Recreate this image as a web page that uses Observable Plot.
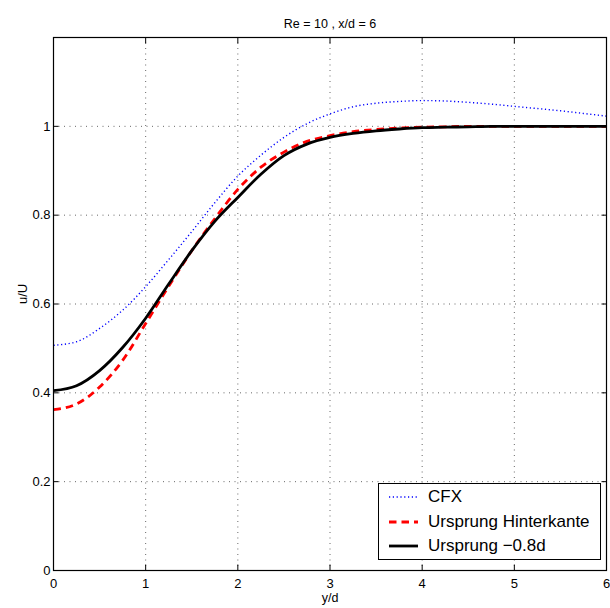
<!DOCTYPE html>
<html>
<head>
<meta charset="utf-8">
<script src="https://cdn.jsdelivr.net/npm/d3@7"></script>
<script src="https://cdn.jsdelivr.net/npm/@observablehq/plot@0.6"></script>
<style>
  html, body { margin: 0; padding: 0; background: #fff; }
  #wrap { position: relative; width: 610px; height: 608px; font-family: "Liberation Sans", Arial, Helvetica, sans-serif; }
  #legend { position: absolute; left: 378px; top: 483px; width: 223px; height: 77px; box-sizing: border-box; border: 1px solid #000; background: #fff; padding-top: 1px; }
  .row { display: flex; align-items: center; height: 24.6px; }
  .row svg { flex: none; }
  .row span { font-size: 17px; margin-left: 10px; color: #000; white-space: nowrap; }
</style>
</head>
<body>
<div id="wrap"></div>
<script>
// ---- data ----
const titleText = "Re = 10 , x/d = 6";
const xLabelText = "y/d";
const yLabelText = "u/U";

const yd = [0, 0.25, 0.5, 0.75, 1.0, 1.25, 1.5, 1.75, 2.0, 2.25, 2.5, 2.75, 3.0, 3.25, 3.5, 3.75, 4.0, 4.25, 4.5, 4.75, 5.0, 5.25, 5.5, 5.75, 6.0];
const cfx = [0.507, 0.515, 0.545, 0.586, 0.639, 0.700, 0.763, 0.828, 0.888, 0.935, 0.975, 1.006, 1.028, 1.044, 1.052, 1.056, 1.058, 1.057, 1.054, 1.050, 1.045, 1.040, 1.035, 1.029, 1.023];
const hinterkante = [0.362, 0.375, 0.413, 0.473, 0.556, 0.640, 0.720, 0.792, 0.858, 0.908, 0.942, 0.966, 0.979, 0.988, 0.993, 0.996, 0.998, 0.999, 1.0, 1.0, 1.0, 1.0, 1.0, 1.0, 1.0];
const ursprung08 = [0.405, 0.416, 0.450, 0.502, 0.568, 0.645, 0.720, 0.786, 0.840, 0.892, 0.934, 0.960, 0.975, 0.984, 0.990, 0.994, 0.997, 0.998, 0.999, 1.0, 1.0, 1.0, 1.0, 1.0, 1.0];

const seriesNames = ["CFX", "Ursprung Hinterkante", "Ursprung \u22120.8d"];
const seriesValues = [cfx, hinterkante, ursprung08];

const xTicks = [0, 1, 2, 3, 4, 5, 6];
const xTickLabels = ["0", "1", "2", "3", "4", "5", "6"];
const yTicks = [0, 0.2, 0.4, 0.6, 0.8, 1];
const yTickLabels = ["0", "0.2", "0.4", "0.6", "0.8", "1"];

// ---- styles ----
const styles = [
  {stroke: "#0000ff", strokeWidth: 1.4, strokeDasharray: "1.2,2.6"},
  {stroke: "#ff0000", strokeWidth: 2.8, strokeDasharray: "7.5,5"},
  {stroke: "#000000", strokeWidth: 2.8, strokeDasharray: null}
];
const font = '"Liberation Sans", Arial, Helvetica, sans-serif';

const rows = [];
seriesValues.forEach((vals, s) => vals.forEach((v, i) => rows.push({x: yd[i], y: v, s})));

const fmtX = d => xTickLabels[xTicks.indexOf(d)];
const fmtY = d => yTickLabels[yTicks.indexOf(d)];

const lineMarks = seriesValues.map((vals, s) =>
  Plot.line(rows.filter(r => r.s === s), {
    x: "x", y: "y", curve: "monotone-x",
    stroke: styles[s].stroke, strokeWidth: styles[s].strokeWidth,
    strokeDasharray: styles[s].strokeDasharray, strokeLinecap: "butt"
  })
);

const chart = Plot.plot({
  width: 610,
  height: 608,
  marginLeft: 53,
  marginRight: 4,
  marginTop: 37,
  marginBottom: 38,
  style: {fontFamily: font, fontSize: "13px", background: "#fff", color: "#000", overflow: "visible"},
  x: {domain: [0, 6]},
  y: {domain: [0, 1.2]},
  marks: [
    Plot.gridX(xTicks, {stroke: "#000", strokeOpacity: 0.6, strokeDasharray: "1,4.5"}),
    Plot.gridY(yTicks, {stroke: "#000", strokeOpacity: 0.6, strokeDasharray: "1,4.5"}),
    ...lineMarks,
    Plot.axisX(xTicks, {anchor: "bottom", tickSize: 0, tickPadding: 8, tickFormat: fmtX, label: null, fontSize: 13}),
    Plot.axisX(xTicks, {anchor: "bottom", tickSize: -5.5, fill: "none", label: null}),
    Plot.axisX(xTicks, {anchor: "top", tickSize: -5.5, fill: "none", label: null}),
    Plot.axisY(yTicks, {anchor: "left", tickSize: 0, tickPadding: 3, tickFormat: fmtY, label: null, fontSize: 13}),
    Plot.axisY(yTicks, {anchor: "left", tickSize: -5.5, fill: "none", label: null}),
    Plot.axisY(yTicks, {anchor: "right", tickSize: -5.5, fill: "none", label: null}),
    Plot.frame({stroke: "#000", strokeWidth: 1.2}),
    Plot.text([titleText], {frameAnchor: "top", dy: -18, text: d => d, fontSize: 12.5}),
    Plot.text([xLabelText], {frameAnchor: "bottom", dy: 31, text: d => d, fontSize: 12.5}),
    Plot.text([yLabelText], {frameAnchor: "left", dx: -31, rotate: -90, text: d => d, fontSize: 13})
  ]
});

const wrap = document.getElementById("wrap");
wrap.appendChild(chart);

// legend (inside the axes, bottom right)
const legend = document.createElement("div");
legend.id = "legend";
seriesNames.forEach((name, s) => {
  const row = document.createElement("div");
  row.className = "row";
  const st = styles[s];
  row.innerHTML = `<svg width="39" height="10"><line x1="10" x2="39" y1="5" y2="5" stroke="${st.stroke}" stroke-width="${st.strokeWidth}" ${st.strokeDasharray ? `stroke-dasharray="${st.strokeDasharray}"` : ""}/></svg><span>${name}</span>`;
  legend.appendChild(row);
});
wrap.appendChild(legend);
</script>
</body>
</html>
